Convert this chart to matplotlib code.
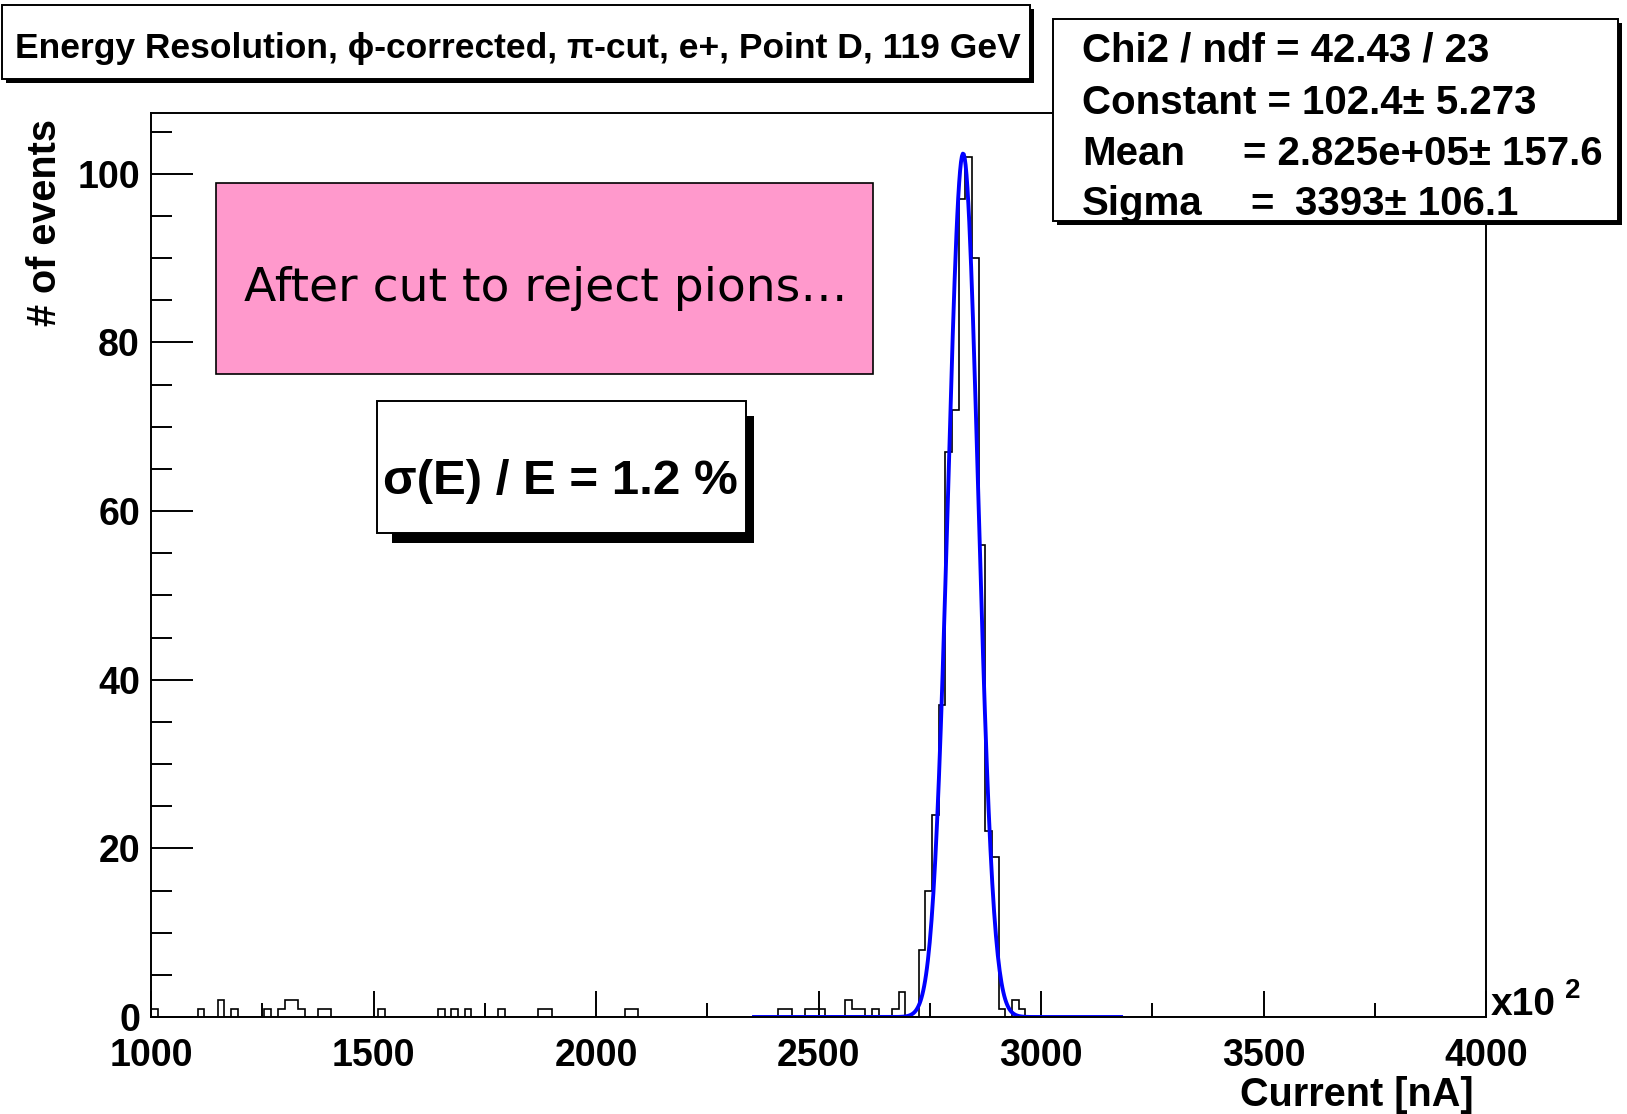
import matplotlib.pyplot as plt
import numpy as np
from matplotlib.patches import Rectangle

plt.rcParams['font.family'] = ['Liberation Sans', 'DejaVu Sans']
plt.rcParams['font.weight'] = 'bold'

# histogram: 200 bins of 15 (x10^2 nA) from 1000 to 4000, only non-empty bins listed
x_lo, x_hi, bin_w = 1000, 4000, 15
bin_left = [1000, 1105, 1150, 1180, 1255, 1285, 1300, 1315, 1330, 1375, 1390,
            1510, 1645, 1675, 1705, 1780, 1870, 1885, 2065, 2080, 2410, 2425,
            2470, 2485, 2500, 2560, 2575, 2590, 2620, 2665, 2680, 2725, 2740,
            2755, 2770, 2785, 2800, 2815, 2830, 2845, 2860, 2875, 2890, 2905,
            2935, 2950]
bin_count = [1, 1, 2, 1, 1, 1, 2, 2, 1, 1, 1,
             1, 1, 1, 1, 1, 1, 1, 1, 1, 1, 1,
             1, 1, 1, 2, 1, 1, 1, 1, 3, 8, 15,
             24, 37, 67, 72, 97, 102, 90, 56, 22, 19, 1,
             2, 1]

# gaussian fit result (mean, sigma in x10^2 units)
fit_const, fit_mean, fit_sigma = 102.4, 2825.0, 33.93
fit_range = (2355, 3180)

title = "Energy Resolution, \u03d5-corrected, \u03c0-cut, e+, Point D, 119 GeV"
stats_lines = ["Chi2 / ndf = 42.43 / 23", "Constant = 102.4\u00b1 5.273"]

W, H = 1627, 1114
fig = plt.figure(figsize=(W / 100, H / 100), dpi=100)


def fx(x):
    return x / W


def fy(y):
    return 1 - y / H


def box(x0, y0, x1, y1, face, shadow=None, lw=1.4):
    if shadow is not None:
        sx0, sy0, sx1, sy1 = shadow
        fig.add_artist(Rectangle((fx(sx0), fy(sy1)), (sx1 - sx0) / W, (sy1 - sy0) / H,
                                 facecolor='black', edgecolor='none',
                                 transform=fig.transFigure, zorder=2))
    fig.add_artist(Rectangle((fx(x0), fy(y1)), (x1 - x0) / W, (y1 - y0) / H,
                             facecolor=face, edgecolor='black', lw=lw,
                             transform=fig.transFigure, zorder=2.1))


ax = fig.add_axes([fx(151), fy(1017), (1486 - 151) / W, (1017 - 113) / H])

edges = np.arange(x_lo, x_hi + bin_w, bin_w)
counts = np.zeros(len(edges) - 1)
for b, c in zip(bin_left, bin_count):
    counts[(b - x_lo) // bin_w] = c
ax.stairs(counts, edges, color='black', lw=1.2, baseline=0)

xf = np.linspace(fit_range[0], fit_range[1], 400)
ax.plot(xf, fit_const * np.exp(-0.5 * ((xf - fit_mean) / fit_sigma) ** 2),
        color='#0000ff', lw=2.8)

ax.set_xlim(x_lo, x_hi)
ax.set_ylim(0, 107.2)
ax.set_xticks(np.arange(1000, 4001, 500))
ax.set_xticks(np.arange(1000, 4001, 250), minor=True)
ax.set_yticks(np.arange(0, 101, 20))
ax.set_yticks(np.arange(0, 106, 5), minor=True)
ax.tick_params(axis='both', which='both', direction='in', width=1.4,
               labelsize=27, top=False, right=False)
ax.tick_params(axis='x', which='major', length=19, pad=15)
ax.tick_params(axis='x', which='minor', length=10)
ax.tick_params(axis='y', which='major', length=30, pad=8)
ax.tick_params(axis='y', which='minor', length=15)
for s in ax.spines.values():
    s.set_linewidth(1.4)

# axis titles
fig.text(fx(1474), fy(1106), "Current [nA]", ha='right', va='baseline', fontsize=28.5)
fig.text(fx(45), fy(119), "# of events", rotation=90, ha='center', va='top', fontsize=28.5)
fig.text(fx(1491), fy(1015), "x10", ha='left', va='baseline', fontsize=28)
fig.text(fx(1565), fy(998), "2", ha='left', va='baseline', fontsize=20)

# title box
box(2, 5, 1030, 79, 'white', shadow=(6, 9, 1034, 83))
fig.text(fx(15), fy(58), title, ha='left', va='baseline', fontsize=25.5, zorder=3)

# stats box
box(1053, 19, 1618, 221, 'white', shadow=(1057, 23, 1622, 225))
fig.text(fx(1082), fy(62), stats_lines[0], fontsize=29, va='baseline', zorder=3)
fig.text(fx(1082), fy(114), stats_lines[1], fontsize=29, va='baseline', zorder=3)
fig.text(fx(1082), fy(165), "Mean", fontsize=29, va='baseline', zorder=3)
fig.text(fx(1243), fy(165), "= 2.825e+05\u00b1 157.6", fontsize=29, va='baseline', zorder=3)
fig.text(fx(1082), fy(215), "Sigma", fontsize=29, va='baseline', zorder=3)
fig.text(fx(1250), fy(215), "=", fontsize=29, va='baseline', zorder=3)
fig.text(fx(1295), fy(215), "3393\u00b1 106.1", fontsize=29, va='baseline', zorder=3)

# pink note
box(216, 183, 873, 374, '#ff99cc', lw=1.2)
fig.text(fx(244), fy(301), "After cut to reject pions\u2026", fontsize=34,
         family='DejaVu Sans', weight='normal', va='baseline', zorder=3)

# resolution box
box(377, 401, 746, 533, 'white', shadow=(392, 416, 754, 543))
fig.text(fx(383), fy(494), "\u03c3(E) / E = 1.2 %", fontsize=35.5, va='baseline', zorder=3)

fig.savefig('out.png', dpi=100)
